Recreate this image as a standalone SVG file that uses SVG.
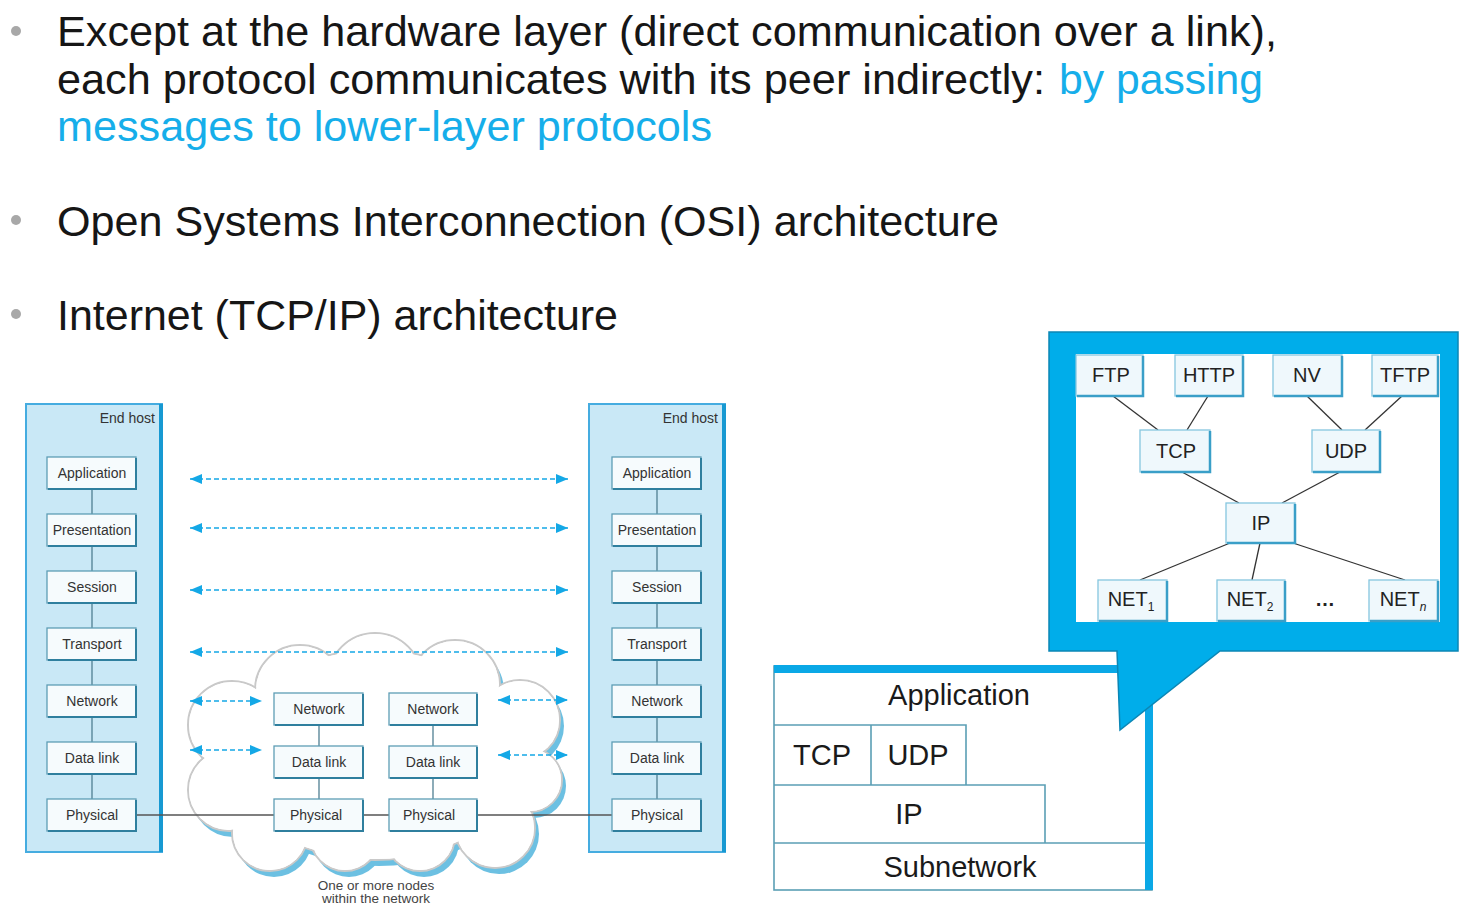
<svg xmlns="http://www.w3.org/2000/svg" width="1481" height="906" viewBox="0 0 1481 906">
<defs>
<style>
.t{font-family:"Liberation Sans",Arial,sans-serif}
.big{font-size:43px;fill:#161616}
.blue{fill:#16aeea}
.bul{fill:#a8a8a8}
.host{fill:#c9e8f6;stroke:#45ace0;stroke-width:2}
.hostedge{stroke:#1799d2;stroke-width:4}
.lay{fill:#f6fbfd;stroke:#5e9db5;stroke-width:1.3}
.sh{fill:none;stroke:#2f7f9e;stroke-width:2}
.lt{font-size:14px;fill:#333;text-anchor:middle}
.eh{font-size:14px;fill:#333;text-anchor:end}
.vl{stroke:#4f7f92;stroke-width:1.3}
.dash{stroke:#14a8e6;stroke-width:1.7;stroke-dasharray:5 3;fill:none}
.gn{fill:#eff8fc;stroke:#86c6df;stroke-width:1.3}
.gsh{fill:none;stroke:#3a9fc8;stroke-width:2.5}
.gt{font-size:20px;fill:#222;text-anchor:middle}
.gl{stroke:#333;stroke-width:1.3}
.st{fill:none;stroke:#5b9fb5;stroke-width:1.6}
.stt{font-size:29px;fill:#1a1a1a;text-anchor:middle}
</style>
<marker id="ah" viewBox="0 0 12 10" refX="12" refY="5" markerUnits="userSpaceOnUse" markerWidth="12" markerHeight="10" orient="auto-start-reverse">
<path d="M0,0 L12,5 L0,10 z" fill="#14a8e6"/>
</marker>
</defs>
<rect width="1481" height="906" fill="#ffffff"/>

<g id="bullets">
<circle class="bul" cx="16" cy="31" r="5"/>
<circle class="bul" cx="16" cy="220" r="5"/>
<circle class="bul" cx="16" cy="314" r="5"/>
<text class="t big" x="57" y="46" textLength="1220" lengthAdjust="spacingAndGlyphs">Except at the hardware layer (direct communication over a link),</text>
<text class="t big" x="57" y="94" textLength="988" lengthAdjust="spacingAndGlyphs">each protocol communicates with its peer indirectly:</text>
<text class="t big blue" x="1059" y="94" textLength="204" lengthAdjust="spacingAndGlyphs">by passing</text>
<text class="t big blue" x="57" y="141" textLength="655" lengthAdjust="spacingAndGlyphs">messages to lower-layer protocols</text>
<text class="t big" x="57" y="236" textLength="942" lengthAdjust="spacingAndGlyphs">Open Systems Interconnection (OSI) architecture</text>
<text class="t big" x="57" y="330" textLength="561" lengthAdjust="spacingAndGlyphs">Internet (TCP/IP) architecture</text>
</g>

<g id="cloud">
<g fill="#6cc0e2" transform="translate(4,6)">
<circle cx="300" cy="690" r="45"/><circle cx="375" cy="680" r="47"/><circle cx="455" cy="685" r="45"/>
<circle cx="520" cy="720" r="40"/><circle cx="232" cy="725" r="44"/><circle cx="229" cy="790" r="41"/>
<circle cx="270" cy="833" r="38"/><circle cx="345" cy="836" r="35"/><circle cx="420" cy="836" r="35"/>
<circle cx="495" cy="828" r="40"/><circle cx="530" cy="780" r="32"/><ellipse cx="375" cy="755" rx="150" ry="105"/>
</g>
<g fill="#fff" stroke="#c9c9c9" stroke-width="2">
<circle cx="300" cy="690" r="45"/><circle cx="375" cy="680" r="47"/><circle cx="455" cy="685" r="45"/>
<circle cx="520" cy="720" r="40"/><circle cx="232" cy="725" r="44"/><circle cx="229" cy="790" r="41"/>
<circle cx="270" cy="833" r="38"/><circle cx="345" cy="836" r="35"/><circle cx="420" cy="836" r="35"/>
<circle cx="495" cy="828" r="40"/><circle cx="530" cy="780" r="32"/><ellipse cx="375" cy="755" rx="150" ry="105"/>
</g>
<g fill="#fff">
<circle cx="300" cy="690" r="44"/><circle cx="375" cy="680" r="46"/><circle cx="455" cy="685" r="44"/>
<circle cx="520" cy="720" r="39"/><circle cx="232" cy="725" r="43"/><circle cx="229" cy="790" r="40"/>
<circle cx="270" cy="833" r="37"/><circle cx="345" cy="836" r="34"/><circle cx="420" cy="836" r="34"/>
<circle cx="495" cy="828" r="39"/><circle cx="530" cy="780" r="31"/><ellipse cx="375" cy="755" rx="149" ry="104"/>
</g>
<text class="t" x="376" y="890" font-size="13.5" fill="#444" text-anchor="middle">One or more nodes</text>
<text class="t" x="376" y="903" font-size="13.5" fill="#444" text-anchor="middle">within the network</text>
</g>

<g id="host-left">
<rect class="host" x="26" y="404" width="136" height="448"/>
<line class="hostedge" x1="161" y1="404" x2="161" y2="852"/>
<text class="t eh" x="155" y="423">End host</text>
</g>
<g id="host-right">
<rect class="host" x="589" y="404" width="136" height="448"/>
<line class="hostedge" x1="724" y1="404" x2="724" y2="852"/>
<text class="t eh" x="718" y="423">End host</text>
</g>

<g id="tcpip-stack">
<rect x="774" y="666" width="378" height="224" fill="#fff" stroke="#5b9fb5" stroke-width="1.6"/>
<rect x="774" y="665" width="378" height="8" fill="#0aa8e6"/>
<rect x="1145" y="665" width="8" height="225" fill="#0aa8e6"/>
<path class="st" d="M774,725 H966 V785 M871,725 V785 M774,785 H1045 V843 M774,843 H1145"/>
<text class="t stt" x="959" y="705">Application</text>
<text class="t stt" x="822" y="765">TCP</text>
<text class="t stt" x="918" y="765">UDP</text>
<text class="t stt" x="909" y="824">IP</text>
<text class="t stt" x="960" y="877">Subnetwork</text>
</g>

<g id="callout">
<path d="M1049,332 H1458 V651 H1220 L1120,730 L1117,651 H1049 Z" fill="#00adea" stroke="#0b86b5" stroke-width="1.5"/>
<rect x="1076" y="354" width="364" height="268" fill="#ffffff"/>
</g>

<g id="connectors">
<g class="vl">
<line x1="92" y1="489" x2="92" y2="514"/><line x1="92" y1="546" x2="92" y2="571"/><line x1="92" y1="603" x2="92" y2="628"/>
<line x1="92" y1="660" x2="92" y2="685"/><line x1="92" y1="717" x2="92" y2="742"/><line x1="92" y1="774" x2="92" y2="799"/>
<line x1="657" y1="489" x2="657" y2="514"/><line x1="657" y1="546" x2="657" y2="571"/><line x1="657" y1="603" x2="657" y2="628"/>
<line x1="657" y1="660" x2="657" y2="685"/><line x1="657" y1="717" x2="657" y2="742"/><line x1="657" y1="774" x2="657" y2="799"/>
<line x1="319" y1="725" x2="319" y2="746"/><line x1="319" y1="778" x2="319" y2="799"/>
<line x1="433" y1="725" x2="433" y2="746"/><line x1="433" y1="778" x2="433" y2="799"/>
</g>
<line x1="137" y1="815" x2="612" y2="815" stroke="#555" stroke-width="1.3"/>
<g class="dash" marker-start="url(#ah)" marker-end="url(#ah)">
<line x1="190" y1="479" x2="568" y2="479"/>
<line x1="190" y1="528" x2="568" y2="528"/>
<line x1="190" y1="590" x2="568" y2="590"/>
<line x1="190" y1="652" x2="568" y2="652"/>
<line x1="190" y1="701" x2="262" y2="701"/>
<line x1="498" y1="700" x2="568" y2="700"/>
<line x1="190" y1="750" x2="262" y2="750"/>
<line x1="498" y1="755" x2="568" y2="755"/>
</g>
<g class="gl">
<line x1="1113" y1="396" x2="1158" y2="430"/>
<line x1="1208" y1="396" x2="1187" y2="430"/>
<line x1="1307" y1="396" x2="1342" y2="430"/>
<line x1="1402" y1="396" x2="1365" y2="430"/>
<line x1="1182" y1="472" x2="1239" y2="503"/>
<line x1="1340" y1="472" x2="1282" y2="503"/>
<line x1="1230" y1="543" x2="1140" y2="580"/>
<line x1="1260" y1="543" x2="1252" y2="580"/>
<line x1="1293" y1="543" x2="1405" y2="580"/>
</g>
</g>

<g id="osi-left-layers">
<g id="l-app"><rect class="lay" x="47" y="457" width="89" height="32"/><path class="sh" d="M136,458 V489 H48"/><text class="t lt" x="92" y="478">Application</text></g>
<g id="l-pres"><rect class="lay" x="47" y="514" width="89" height="32"/><path class="sh" d="M136,515 V546 H48"/><text class="t lt" x="92" y="535">Presentation</text></g>
<g id="l-sess"><rect class="lay" x="47" y="571" width="89" height="32"/><path class="sh" d="M136,572 V603 H48"/><text class="t lt" x="92" y="592">Session</text></g>
<g id="l-trans"><rect class="lay" x="47" y="628" width="89" height="32"/><path class="sh" d="M136,629 V660 H48"/><text class="t lt" x="92" y="649">Transport</text></g>
<g id="l-net"><rect class="lay" x="47" y="685" width="89" height="32"/><path class="sh" d="M136,686 V717 H48"/><text class="t lt" x="92" y="706">Network</text></g>
<g id="l-dl"><rect class="lay" x="47" y="742" width="89" height="32"/><path class="sh" d="M136,743 V774 H48"/><text class="t lt" x="92" y="763">Data link</text></g>
<g id="l-phy"><rect class="lay" x="47" y="799" width="89" height="32"/><path class="sh" d="M136,800 V831 H48"/><text class="t lt" x="92" y="820">Physical</text></g>
</g>

<g id="osi-right-layers">
<g id="r-app"><rect class="lay" x="612" y="457" width="89" height="32"/><path class="sh" d="M701,458 V489 H613"/><text class="t lt" x="657" y="478">Application</text></g>
<g id="r-pres"><rect class="lay" x="612" y="514" width="89" height="32"/><path class="sh" d="M701,515 V546 H613"/><text class="t lt" x="657" y="535">Presentation</text></g>
<g id="r-sess"><rect class="lay" x="612" y="571" width="89" height="32"/><path class="sh" d="M701,572 V603 H613"/><text class="t lt" x="657" y="592">Session</text></g>
<g id="r-trans"><rect class="lay" x="612" y="628" width="89" height="32"/><path class="sh" d="M701,629 V660 H613"/><text class="t lt" x="657" y="649">Transport</text></g>
<g id="r-net"><rect class="lay" x="612" y="685" width="89" height="32"/><path class="sh" d="M701,686 V717 H613"/><text class="t lt" x="657" y="706">Network</text></g>
<g id="r-dl"><rect class="lay" x="612" y="742" width="89" height="32"/><path class="sh" d="M701,743 V774 H613"/><text class="t lt" x="657" y="763">Data link</text></g>
<g id="r-phy"><rect class="lay" x="612" y="799" width="89" height="32"/><path class="sh" d="M701,800 V831 H613"/><text class="t lt" x="657" y="820">Physical</text></g>
</g>

<g id="router-1">
<g id="m1-net"><rect class="lay" x="274" y="693" width="89" height="32"/><path class="sh" d="M363,694 V725 H275"/><text class="t lt" x="319" y="714">Network</text></g>
<g id="m1-dl"><rect class="lay" x="274" y="746" width="89" height="32"/><path class="sh" d="M363,747 V778 H275"/><text class="t lt" x="319" y="767">Data link</text></g>
<g id="m1-phy"><rect class="lay" x="274" y="799" width="89" height="32"/><path class="sh" d="M363,800 V831 H275"/><text class="t lt" x="316" y="820">Physical</text></g>
</g>
<g id="router-2">
<g id="m2-net"><rect class="lay" x="389" y="693" width="88" height="32"/><path class="sh" d="M477,694 V725 H390"/><text class="t lt" x="433" y="714">Network</text></g>
<g id="m2-dl"><rect class="lay" x="389" y="746" width="88" height="32"/><path class="sh" d="M477,747 V778 H390"/><text class="t lt" x="433" y="767">Data link</text></g>
<g id="m2-phy"><rect class="lay" x="389" y="799" width="88" height="32"/><path class="sh" d="M477,800 V831 H390"/><text class="t lt" x="429" y="820">Physical</text></g>
</g>

<g id="graph-nodes">
<g id="g-ftp"><rect class="gn" x="1076" y="355" width="67" height="41"/><path class="gsh" d="M1143,356 V396 H1077"/><text class="t gt" x="1111" y="382">FTP</text></g>
<g id="g-http"><rect class="gn" x="1175" y="355" width="68" height="41"/><path class="gsh" d="M1243,356 V396 H1176"/><text class="t gt" x="1209" y="382">HTTP</text></g>
<g id="g-nv"><rect class="gn" x="1273" y="355" width="69" height="41"/><path class="gsh" d="M1342,356 V396 H1274"/><text class="t gt" x="1307" y="382">NV</text></g>
<g id="g-tftp"><rect class="gn" x="1372" y="355" width="66" height="41"/><path class="gsh" d="M1438,356 V396 H1373"/><text class="t gt" x="1405" y="382">TFTP</text></g>
<g id="g-tcp"><rect class="gn" x="1140" y="430" width="70" height="42"/><path class="gsh" d="M1210,431 V472 H1141"/><text class="t gt" x="1176" y="458">TCP</text></g>
<g id="g-udp"><rect class="gn" x="1312" y="430" width="68" height="42"/><path class="gsh" d="M1380,431 V472 H1313"/><text class="t gt" x="1346" y="458">UDP</text></g>
<g id="g-ip"><rect class="gn" x="1226" y="503" width="69" height="40"/><path class="gsh" d="M1295,504 V543 H1227"/><text class="t gt" x="1261" y="530">IP</text></g>
<g id="g-net1"><rect class="gn" x="1098" y="580" width="69" height="41"/><path class="gsh" d="M1167,581 V621 H1099"/><text class="t gt" x="1131" y="606">NET<tspan font-size="12" dy="5">1</tspan></text></g>
<g id="g-net2"><rect class="gn" x="1217" y="580" width="68" height="41"/><path class="gsh" d="M1285,581 V621 H1218"/><text class="t gt" x="1250" y="606">NET<tspan font-size="12" dy="5">2</tspan></text></g>
<g id="g-dots"><text class="t gt" x="1325" y="606" font-weight="bold">…</text></g>
<g id="g-netn"><rect class="gn" x="1369" y="580" width="69" height="41"/><path class="gsh" d="M1438,581 V621 H1370"/><text class="t gt" x="1403" y="606">NET<tspan font-size="12" dy="5" font-style="italic">n</tspan></text></g>
</g>
</svg>
